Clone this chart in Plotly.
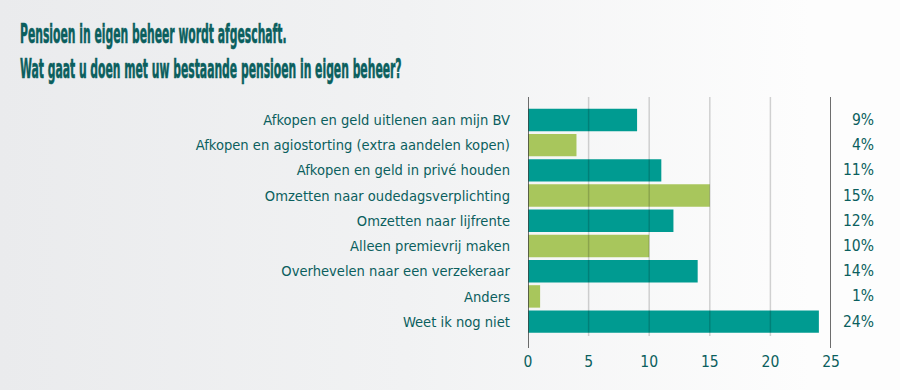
import plotly.graph_objects as go

categories = [
    "Afkopen en geld uitlenen aan mijn BV",
    "Afkopen en agiostorting (extra aandelen kopen)",
    "Afkopen en geld in privé houden",
    "Omzetten naar oudedagsverplichting",
    "Omzetten naar lijfrente",
    "Alleen premievrij maken",
    "Overhevelen naar een verzekeraar",
    "Anders",
    "Weet ik nog niet",
]
values = [9, 4, 11, 15, 12, 10, 14, 1, 24]
pct_labels = ["9%", "4%", "11%", "15%", "12%", "10%", "14%", "1%", "24%"]
x_ticks = [0, 5, 10, 15, 20, 25]
title_lines = [
    "Pensioen in eigen beheer wordt afgeschaft.",
    "Wat gaat u doen met uw bestaande pensioen in eigen beheer?",
]

TEAL = "#009B91"
GREEN = "#A8C65C"
TXT = "#0B5F5E"
colors = [TEAL if i % 2 == 0 else GREEN for i in range(len(categories))]

FONT = "DejaVu Sans Condensed, DejaVu Sans, sans-serif"

fig = go.Figure()
fig.add_trace(go.Bar(
    x=values, y=categories, orientation="h",
    marker=dict(color=colors, line=dict(width=0)),
    width=0.89, showlegend=False,
))

# title (index 0 annotation)
fig.add_annotation(
    text="<b>" + "<br>".join(title_lines) + "</b>",
    xref="paper", yref="paper", x=(18 - 528) / 303, y=(336 - 16) / 239,
    xanchor="left", yanchor="top", align="left", showarrow=False,
    font=dict(family=FONT, size=27, color=TXT),
)

for c, p in zip(categories, pct_labels):
    fig.add_annotation(x=1.0, xref="paper", xanchor="right", xshift=45, y=c, yref="y",
                       text=p, showarrow=False, font=dict(family=FONT, size=15.5, color=TXT))

fig.update_layout(
    width=900, height=390,
    margin=dict(l=528, r=69, t=97, b=54),
    paper_bgcolor="rgba(0,0,0,0)", plot_bgcolor="rgba(0,0,0,0)",
    font=dict(family=FONT, color=TXT, size=15),
)
fig.update_xaxes(range=[0, 25], tickvals=x_ticks, showgrid=False, zeroline=False,
                 showline=False, ticks="", ticklabelstandoff=14,
                 tickfont=dict(size=15.5, color=TXT), fixedrange=True)
fig.update_yaxes(range=[8.57, -0.91], showgrid=False, ticks="", ticklabelstandoff=17,
                 tickfont=dict(size=14.6, color=TXT), showline=False, fixedrange=True)

for xv in x_ticks:
    if xv in (0, 25):
        fig.add_shape(type="line", x0=xv, x1=xv, y0=-0.05, y1=1, yref="paper", xref="x",
                      line=dict(color="#3c3c3c", width=1.5), layer="above")
    else:
        fig.add_shape(type="line", x0=xv, x1=xv, y0=0, y1=1, yref="paper", xref="x",
                      line=dict(color="rgba(0,0,0,0.17)", width=1.5), layer="above")

post = """
document.body.style.margin='0';
document.body.style.overflow='hidden';
document.body.style.background='linear-gradient(to right, #eaebed 0%, #f1f2f3 45%, #fdfdfd 90%)';
function squeeze(){
  var g=document.querySelector('g.annotation[data-index="0"] text.annotation-text');
  if(g){g.style.transformBox='fill-box';g.style.transformOrigin='0 0';g.style.transform='scaleX(0.445)';
        g.style.stroke='#0B5F5E';g.style.strokeWidth='0.6px';g.style.paintOrder='stroke';}
}
squeeze();
setTimeout(squeeze,30);
"""
fig.write_html("out.html", post_script=post, config={"displayModeBar": False})
